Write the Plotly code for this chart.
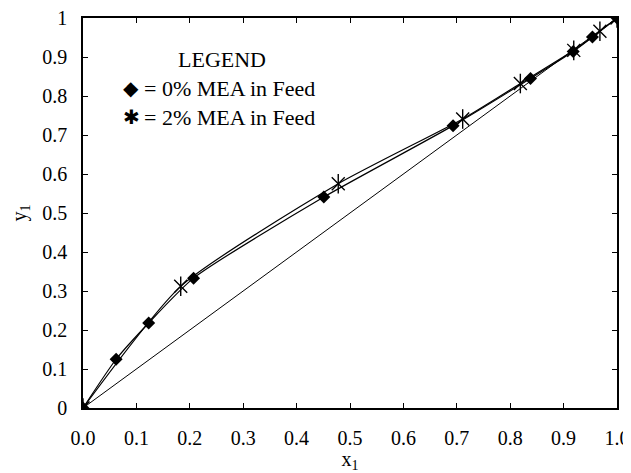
import plotly.graph_objects as go

# 0% MEA in feed (diamonds)
x0 = [0.0, 0.062, 0.123, 0.207, 0.451, 0.693, 0.838, 0.918, 0.954, 1.0]
y0 = [0.0, 0.125, 0.218, 0.333, 0.541, 0.724, 0.845, 0.914, 0.951, 1.0]
# 2% MEA in feed (stars)
x2 = [0.0, 0.183, 0.478, 0.711, 0.819, 0.919, 0.968, 1.0]
y2 = [0.0, 0.312, 0.575, 0.741, 0.832, 0.917, 0.966, 1.0]
# diagonal y = x
xd = [0.0, 1.0]
yd = [0.0, 1.0]

xticks = [0.0, 0.1, 0.2, 0.3, 0.4, 0.5, 0.6, 0.7, 0.8, 0.9, 1.0]
yticks = [0, 0.1, 0.2, 0.3, 0.4, 0.5, 0.6, 0.7, 0.8, 0.9, 1]
xticklabels = ["0.0", "0.1", "0.2", "0.3", "0.4", "0.5", "0.6", "0.7", "0.8", "0.9", "1.0"]
yticklabels = ["0", "0.1", "0.2", "0.3", "0.4", "0.5", "0.6", "0.7", "0.8", "0.9", "1"]

FONT = "Liberation Serif"

fig = go.Figure()
fig.add_trace(go.Scatter(x=xd, y=yd, mode="lines",
                         line=dict(color="black", width=1), showlegend=False))
fig.add_trace(go.Scatter(x=x0, y=y0, mode="lines+markers",
                         line=dict(color="black", width=1.2, shape="spline", smoothing=0.6),
                         marker=dict(symbol="diamond", size=10, color="black"),
                         showlegend=False))
fig.add_trace(go.Scatter(x=x2, y=y2, mode="lines+markers",
                         line=dict(color="black", width=1.2, shape="spline", smoothing=0.6),
                         marker=dict(symbol="x-thin-open", size=13, color="black",
                                     line=dict(color="black", width=1.4)),
                         showlegend=False))
fig.add_trace(go.Scatter(x=x2, y=y2, mode="markers",
                         marker=dict(symbol="line-ns-open", size=14, color="black",
                                     line=dict(color="black", width=1.4)),
                         showlegend=False))

fig.update_xaxes(range=[0, 1], tickmode="array", tickvals=xticks, ticktext=xticklabels,
                 showline=True, linecolor="black", linewidth=1.6, mirror="ticks",
                 ticks="inside", ticklen=5, tickwidth=1, tickcolor="black",
                 showgrid=False, zeroline=False, automargin=False,
                 ticklabelstandoff=11, ticklabeloverflow="allow",
                 tickfont=dict(family=FONT, size=20, color="black"),
                 title=dict(text="x<sub>1</sub>", standoff=4,
                            font=dict(family=FONT, size=20, color="black")))
fig.update_yaxes(range=[0, 1], tickmode="array", tickvals=yticks, ticktext=yticklabels,
                 showline=True, linecolor="black", linewidth=1.6, mirror="ticks",
                 ticks="inside", ticklen=5, tickwidth=1, tickcolor="black",
                 showgrid=False, zeroline=False, automargin=False,
                 ticklabelstandoff=10, ticklabeloverflow="allow",
                 tickfont=dict(family=FONT, size=20, color="black"),
                 title=dict(text="y<sub>1</sub>", standoff=16,
                            font=dict(family=FONT, size=20, color="black")))

# page body has an 8px margin on the left/top, so shrink the figure by that amount
fig.update_layout(
    width=623, height=465,
    margin=dict(l=75, r=14, t=10, b=65),
    paper_bgcolor="white", plot_bgcolor="white",
)
fig.add_annotation(x=0.26, y=0.893, xref="paper", yref="paper", text="LEGEND", showarrow=False,
                   xanchor="center", yanchor="middle",
                   font=dict(family=FONT, size=22, color="black"))
fig.add_annotation(x=0.111, y=0.82, xref="paper", yref="paper",
                   text="= 0% MEA in Feed", showarrow=False,
                   xanchor="left", yanchor="middle",
                   font=dict(family=FONT, size=22, color="black"))
fig.add_annotation(x=0.111, y=0.745, xref="paper", yref="paper",
                   text="= 2% MEA in Feed", showarrow=False,
                   xanchor="left", yanchor="middle",
                   font=dict(family=FONT, size=22, color="black"))
fig.add_annotation(x=0.072, y=0.82, xref="paper", yref="paper",
                   text="\u25C6", showarrow=False,
                   xanchor="left", yanchor="middle",
                   font=dict(family="DejaVu Sans", size=20, color="black"))
fig.add_annotation(x=0.072, y=0.745, xref="paper", yref="paper",
                   text="\u2731", showarrow=False,
                   xanchor="left", yanchor="middle",
                   font=dict(family="DejaVu Sans", size=20, color="black"))

fig.write_html("out.html")
